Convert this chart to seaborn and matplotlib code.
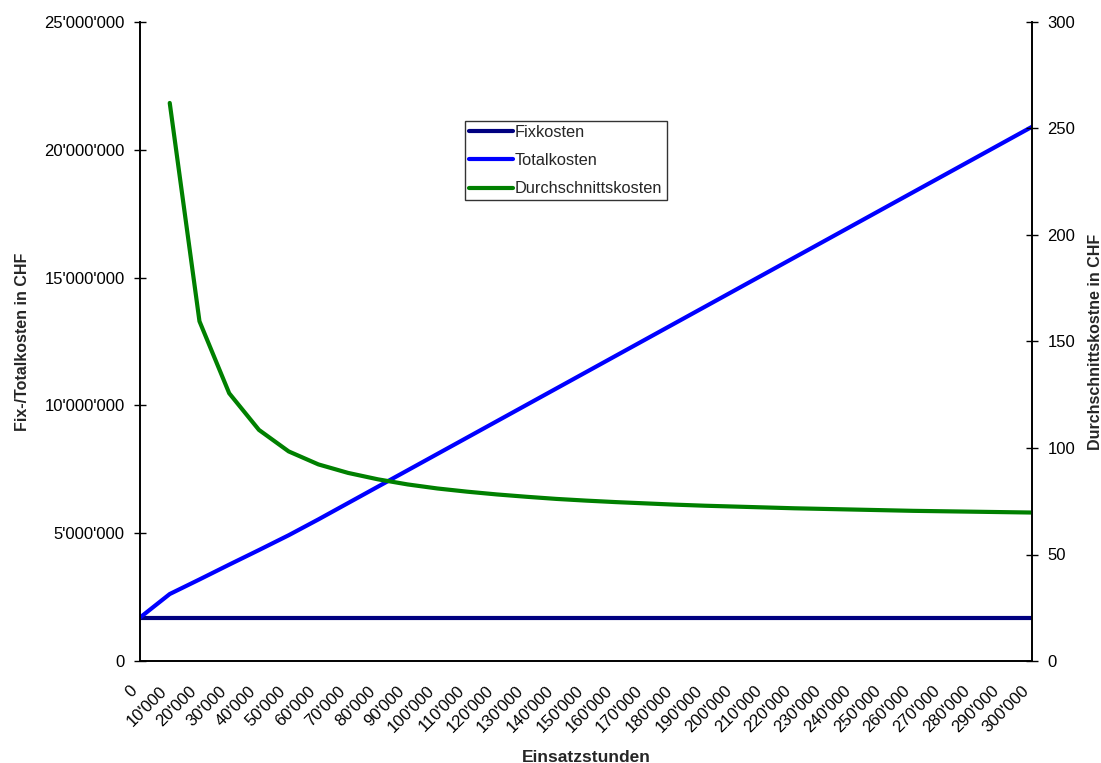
import numpy as np
import pandas as pd
import seaborn as sns
import matplotlib
matplotlib.use("Agg")
import matplotlib.pyplot as plt
import matplotlib.transforms as mtransforms
from matplotlib.ticker import FuncFormatter

# Einsatzstunden (0 .. 300'000 in steps of 10'000)
stunden = [0, 10000, 20000, 30000, 40000, 50000, 60000, 70000, 80000, 90000,
           100000, 110000, 120000, 130000, 140000, 150000, 160000, 170000, 180000,
           190000, 200000, 210000, 220000, 230000, 240000, 250000, 260000, 270000,
           280000, 290000, 300000]

# Fixkosten in CHF
fixkosten = [1700000] * 31

# Totalkosten in CHF
totalkosten = [1700000, 2620000, 3190000, 3770000, 4340000, 4920000, 5540000,
               6180000, 6820000, 7460000, 8100000, 8740000, 9380000, 10020000,
               10660000, 11300000, 11940000, 12580000, 13220000, 13860000,
               14500000, 15140000, 15780000, 16420000, 17060000, 17700000,
               18340000, 18980000, 19620000, 20260000, 20900000]

# Durchschnittskosten in CHF pro Stunde (undefined at 0 hours)
durchschnitt = [np.nan, 262.0, 159.5, 125.7, 108.5, 98.4, 92.3, 88.3, 85.3, 82.9,
                81.0, 79.5, 78.2, 77.1, 76.1, 75.3, 74.6, 74.0, 73.4, 72.9,
                72.5, 72.1, 71.7, 71.4, 71.1, 70.8, 70.5, 70.3, 70.1, 69.9, 69.7]


def swiss(v, _=None):
    return f"{int(round(v)):,}".replace(",", "'")


x_labels = [swiss(s) for s in stunden]
pos = np.arange(len(stunden))

df = pd.DataFrame({
    "pos": pos,
    "Fixkosten": fixkosten,
    "Totalkosten": totalkosten,
    "Durchschnittskosten": durchschnitt,
})

sns.set_theme(style="white")
plt.rcParams["font.family"] = ["Liberation Sans", "DejaVu Sans"]

fig = plt.figure(figsize=(11.01, 7.63), dpi=100)
ax = fig.add_axes([140 / 1101, 1 - 661 / 763, (1032 - 140) / 1101, (661 - 22) / 763])
ax2 = ax.twinx()

lw = 3.0
sns.lineplot(data=df, x="pos", y="Fixkosten", ax=ax, color="#000080", lw=lw,
             label="Fixkosten", legend=False)
sns.lineplot(data=df, x="pos", y="Totalkosten", ax=ax, color="#0000FF", lw=lw,
             label="Totalkosten", legend=False)
sns.lineplot(data=df.dropna(), x="pos", y="Durchschnittskosten", ax=ax2,
             color="#008000", lw=lw, label="Durchschnittskosten", legend=False)

ax.set_xlim(0, len(stunden) - 1)
ax.set_ylim(0, 25000000)
ax2.set_ylim(0, 300)
ax.set_yticks(np.arange(0, 25000001, 5000000))
ax2.set_yticks(np.arange(0, 301, 50))
ax.yaxis.set_major_formatter(FuncFormatter(swiss))

ax.set_xticks(pos)
ax.set_xticklabels(x_labels, rotation=45, ha="right")
shift = mtransforms.ScaledTranslation(-7 / 100, 0, fig.dpi_scale_trans)
for lab in ax.get_xticklabels():
    lab.set_transform(lab.get_transform() + shift)

fs = 12
for a in (ax, ax2):
    a.tick_params(axis="both", direction="inout", length=8, width=1,
                  color="black", labelsize=fs, labelcolor="black")
    for side in ("left", "right", "bottom"):
        a.spines[side].set_visible(True)
        a.spines[side].set_color("black")
        a.spines[side].set_linewidth(1.2)
    a.spines["top"].set_visible(False)
    a.grid(False)
ax.tick_params(axis="x", pad=12)
ax.tick_params(axis="y", pad=7)
ax2.tick_params(axis="y", pad=7)

ax.set_xlabel("Einsatzstunden", fontsize=12.5, fontweight="bold", labelpad=10.5)
ax.set_ylabel("Fix-/Totalkosten in CHF", fontsize=11.5, fontweight="bold",
              labelpad=10)
ax2.set_ylabel("Durchschnittskostne in CHF", fontsize=11.5, fontweight="bold",
               labelpad=9)

handles = ax.get_lines()[:2] + ax2.get_lines()[:1]
labels = ["Fixkosten", "Totalkosten", "Durchschnittskosten"]
leg = fig.legend(handles, labels, loc="upper left",
                 bbox_to_anchor=(465 / 1101, 1 - 121 / 763),
                 bbox_transform=fig.transFigure, frameon=True, fancybox=False,
                 fontsize=11.8, handlelength=2.7, handletextpad=0.1,
                 labelspacing=0.8, borderpad=0.25, borderaxespad=0)
leg.get_frame().set_edgecolor("black")
leg.get_frame().set_linewidth(1.0)

fig.savefig("out.png", dpi=100, facecolor="white")
